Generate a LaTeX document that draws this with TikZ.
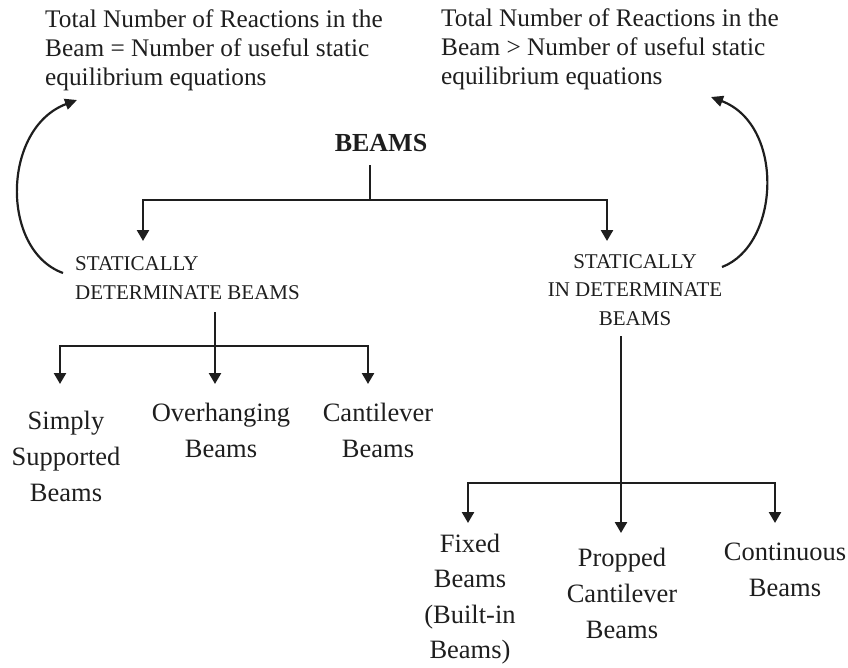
\documentclass[tikz,border=0pt]{standalone}
\usepackage{fontspec}
\setmainfont{Liberation Serif}
\usetikzlibrary{arrows.meta}
\definecolor{ink}{RGB}{30,30,30}
\begin{document}
\begin{tikzpicture}[x=1pt,y=-1pt,
  every node/.style={inner sep=0pt,text=ink},
  toptxt/.style={align=left,anchor=west,font=\fontsize{25.3}{29}\selectfont},
  captxt/.style={align=center,font=\fontsize{21}{28.5}\selectfont},
  leaf/.style={align=center,font=\fontsize{26.5}{36}\selectfont},
  conn/.style={draw=ink,line width=2.5pt},
  arr/.style={conn,-{Triangle[length=11pt,width=12pt]}},
  curvearr/.style={conn,line width=2.2pt,-{Triangle[length=12pt,width=11pt]}}]
\useasboundingbox (0,0) rectangle (848,667);
% top texts
\node[toptxt] (eqL) at (45,50) {Total Number of Reactions in the\\Beam = Number of useful static\\equilibrium equations};
\node[toptxt] (eqR) at (441,49) {Total Number of Reactions in the\\Beam > Number of useful static\\equilibrium equations};
% root
\node[font=\fontsize{26}{28}\selectfont\bfseries] (beams) at (381,143) {BEAMS};
% second level
\node[captxt,align=left,anchor=west] (sd) at (75,278) {STATICALLY\\DETERMINATE BEAMS};
\node[captxt] (si) at (635,290) {STATICALLY\\IN DETERMINATE\\BEAMS};
% leaves left
\node[leaf] (ss) at (66,456) {Simply\\Supported\\Beams};
\node[leaf] (oh) at (221,430) {Overhanging\\Beams};
\node[leaf] (cb) at (378,430) {Cantilever\\Beams};
% leaves right
\node[leaf,font=\fontsize{26.5}{35.5}\selectfont] (fb) at (470,599) {Fixed\\Beams\\(Built-in\\Beams)};
\node[leaf] (pc) at (622,593) {Propped\\Cantilever\\Beams};
\node[leaf] (cn) at (785,570) {Continuous\\Beams};
% coordinates
\coordinate (b0) at (370,165);
\coordinate (b1) at (370,200);
\coordinate (tsd) at (143,241);
\coordinate (tsi) at (607,241);
\coordinate (s0) at (215,312);
\coordinate (s1) at (215,346);
\coordinate (tss) at (60,384);
\coordinate (toh) at (215,384);
\coordinate (tcb) at (368,384);
\coordinate (r0) at (621,336);
\coordinate (r1) at (621,483);
\coordinate (tfb) at (468,523);
\coordinate (tpc) at (621,533);
\coordinate (tcn) at (775,523);
% connectors level 1
\draw[conn] (b0) -- (b1);
\draw[arr] (b1) -| (tsd);
\draw[arr] (b1) -| (tsi);
% left subtree
\draw[arr] (s0) -- (toh);
\draw[arr] (s1) -| (tss);
\draw[arr] (s1) -| (tcb);
% right subtree
\draw[arr] (r0) -- (tpc);
\draw[arr] (r1) -| (tfb);
\draw[arr] (r1) -| (tcn);
% curved arrows
\coordinate (cl0) at (63,273);
\coordinate (cl1) at (77,100);
\coordinate (cr0) at (722,267);
\coordinate (cr1) at (711,97);
\draw[curvearr] (cl0) .. controls (0,250) and (2,128) .. (cl1);
\draw[curvearr] (cr0) .. controls (780,245) and (785,125) .. (cr1);
\end{tikzpicture}
\end{document}
